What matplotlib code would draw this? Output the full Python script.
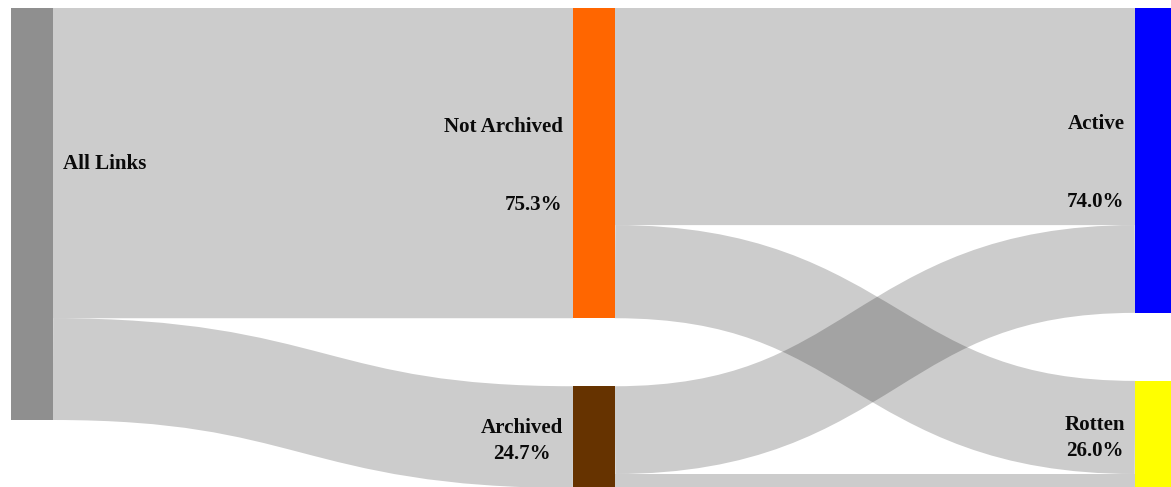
import matplotlib
matplotlib.use('Agg')
import matplotlib.pyplot as plt
from matplotlib.path import Path
from matplotlib.patches import PathPatch, Rectangle
import numpy as np

# --- data (percent of all links) ---
nodes = ["All Links", "Not Archived", "Archived", "Active", "Rotten"]
node_col = [0, 1, 1, 2, 2]
node_colors = ["#8f8f8f", "#ff6600", "#663300", "#0000ff", "#ffff00"]
link_src = [0, 0, 1, 1, 2, 2]
link_dst = [1, 2, 3, 4, 3, 4]
link_val = [75.3, 24.7, 52.7, 22.6, 21.3, 3.4]

# --- layout (pixels) ---
W, H = 1171, 487
col_x = [11, 573, 1135]
node_w = 42
top = 8
scale = 4.12   # px per percent
gap = 68
FONT = "Liberation Serif"
FS = 15.1

n = len(nodes)
node_val = np.zeros(n)
for s, d, v in zip(link_src, link_dst, link_val):
    node_val[d] += v
node_val[0] = sum(v for s, v in zip(link_src, link_val) if s == 0)

node_y = np.zeros(n)
for c in range(3):
    y = top
    for i in range(n):
        if node_col[i] == c:
            node_y[i] = y
            y += node_val[i] * scale + gap

fig = plt.figure(figsize=(W / 100, H / 100), dpi=100)
ax = fig.add_axes([0, 0, 1, 1])
ax.set_xlim(0, W)
ax.set_ylim(H, 0)
ax.axis("off")

# links: stroked centre curve, width = link thickness (d3-sankey style)
out_off = node_y.copy()
in_off = node_y.copy()
for s, d, v in zip(link_src, link_dst, link_val):
    h = v * scale
    x0 = col_x[node_col[s]] + node_w
    x1 = col_x[node_col[d]]
    y0 = out_off[s] + h / 2
    y1 = in_off[d] + h / 2
    out_off[s] += h
    in_off[d] += h
    xm = (x0 + x1) / 2
    path = Path([(x0, y0), (xm, y0), (xm, y1), (x1, y1)],
                [Path.MOVETO, Path.CURVE4, Path.CURVE4, Path.CURVE4])
    ax.add_patch(PathPatch(path, facecolor="none", edgecolor=(0, 0, 0, 0.2),
                           lw=h * 72 / 100, capstyle="butt"))

# nodes
for i in range(n):
    ax.add_patch(Rectangle((col_x[node_col[i]], node_y[i]), node_w,
                           node_val[i] * scale, facecolor=node_colors[i],
                           edgecolor="none", zorder=3))

txt = dict(fontfamily=FONT, fontsize=FS, fontweight="bold", color="#0a0a0a", zorder=4)

# labels
mid = lambda i: node_y[i] + node_val[i] * scale / 2
ax.text(col_x[0] + node_w + 10, mid(0) - 50, nodes[0], ha="left", va="center", **txt)
for i in (1, 3):
    xr = col_x[node_col[i]] - 10
    ax.text(xr, mid(i) - 36, nodes[i], ha="right", va="center", **txt)
    ax.text(xr - 1, mid(i) + 42, f"{node_val[i]:.1f}%", ha="right", va="center", **txt)
for i in (2, 4):
    xr = col_x[node_col[i]] - 10
    ax.text(xr, mid(i) + 4, f"{nodes[i]}\n{node_val[i]:.1f}%", ha="right", va="center",
            multialignment="center", linespacing=1.4, **txt)

fig.savefig("out.png", dpi=100)
